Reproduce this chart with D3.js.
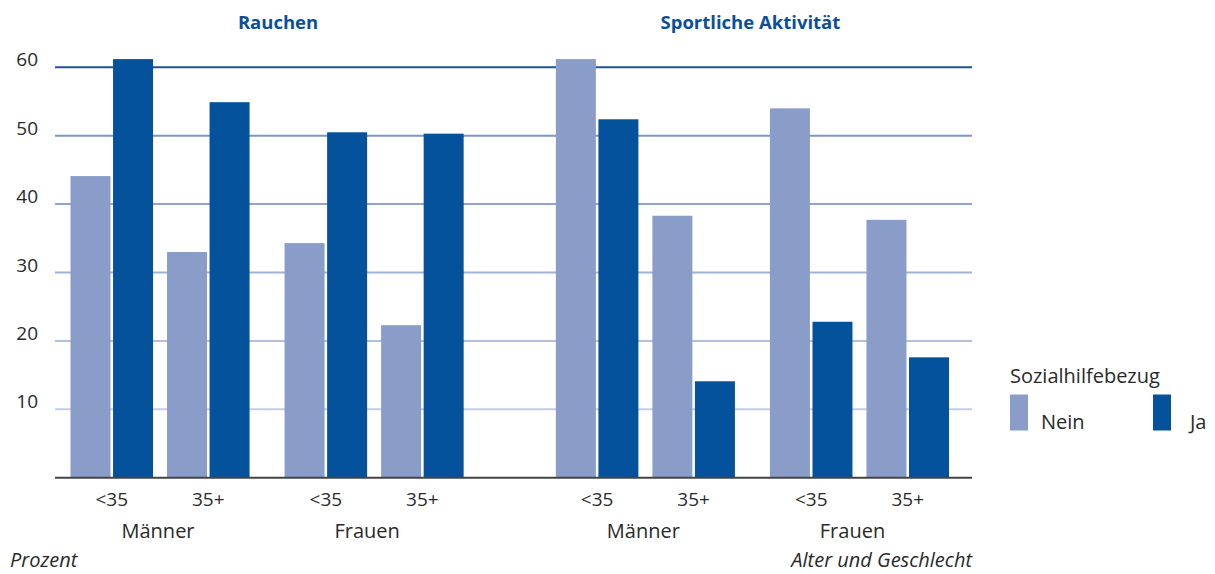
<!DOCTYPE html>
<html>
<head>
<meta charset="utf-8">
<script src="https://cdn.jsdelivr.net/npm/d3@7"></script>
<style>
  body { margin: 0; background: #fff; }
  svg { display: block; font-family: "Open Sans", sans-serif; }
</style>
</head>
<body>
<script>
// data
const panels = ["Rauchen", "Sportliche Aktivität"];
const genders = ["Männer", "Frauen"];
const ages = ["<35", "35+"];
const series = ["Nein", "Ja"];
// order: Männer <35, Männer 35+, Frauen <35, Frauen 35+
const rauchenNein = [44.1, 33.0, 34.3, 22.3];
const rauchenJa = [61.2, 54.9, 50.5, 50.3];
const sportNein = [61.2, 38.3, 54.0, 37.7];
const sportJa = [52.4, 14.1, 22.8, 17.6];
const yTicks = [10, 20, 30, 40, 50, 60];

const width = 1215;
const height = 574;
const colNein = "#8a9cc8";
const colJa = "#04529b";
const textCol = "#2a2a2a";

const svg = d3.select("body")
    .append("svg")
    .attr("width", width)
    .attr("height", height);

const y = d3.scaleLinear().domain([0, 60]).range([477.7, 67.3]);

const panelX = d3.scaleBand().domain(panels).range([70.5, 949]).paddingInner(0.19);
const genderX = d3.scaleBand().domain(genders).range([0, panelX.bandwidth()]).paddingInner(0.1636);
const ageX = d3.scaleBand().domain(ages).range([0, genderX.bandwidth()]).paddingInner(0.145);
const seriesX = d3.scaleBand().domain(series).range([0, ageX.bandwidth()]).paddingInner(0.06);
const color = d3.scaleOrdinal().domain(series).range([colNein, colJa]);

// gridlines get lighter towards the bottom
const gridCol = d3.scaleLinear().domain([10, 50, 60])
    .range(["#c3cde8", "#7c96c9", "#1f5299"]);

svg.append("g")
    .selectAll("line")
    .data(yTicks)
    .join("line")
    .attr("x1", 55)
    .attr("x2", 972)
    .attr("y1", d => y(d))
    .attr("y2", d => y(d))
    .attr("stroke", d => gridCol(d))
    .attr("stroke-width", 2);

svg.append("g")
    .selectAll("text")
    .data(yTicks)
    .join("text")
    .attr("x", 38)
    .attr("y", d => y(d) - 1)
    .attr("text-anchor", "end")
    .attr("font-size", 19)
    .attr("fill", textCol)
    .text(d => d);

// build rows for the bars
const values = {
    "Rauchen": { Nein: rauchenNein, Ja: rauchenJa },
    "Sportliche Aktivität": { Nein: sportNein, Ja: sportJa }
};
const rows = [];
panels.forEach(p => {
    genders.forEach((g, gi) => {
        ages.forEach((a, ai) => {
            series.forEach(s => {
                rows.push({ panel: p, gender: g, age: a, series: s, value: values[p][s][gi * 2 + ai] });
            });
        });
    });
});

const barX = d => panelX(d.panel) + genderX(d.gender) + ageX(d.age) + seriesX(d.series);

svg.append("g")
    .selectAll("rect")
    .data(rows)
    .join("rect")
    .attr("x", barX)
    .attr("y", d => y(d.value))
    .attr("width", seriesX.bandwidth())
    .attr("height", d => y(0) - y(d.value))
    .attr("fill", d => color(d.series));

// baseline
svg.append("line")
    .attr("x1", 55)
    .attr("x2", 972)
    .attr("y1", y(0))
    .attr("y2", y(0))
    .attr("stroke", "#444")
    .attr("stroke-width", 2);

// panel titles
svg.append("g")
    .selectAll("text")
    .data(panels)
    .join("text")
    .attr("x", (d, i) => panelX(d) + panelX.bandwidth() / 2 + (i === 0 ? 11 : -2))
    .attr("y", 29)
    .attr("text-anchor", "middle")
    .attr("font-size", 18.5)
    .attr("font-weight", "bold")
    .attr("fill", "#0b4f9c")
    .text(d => d);

// age and gender labels
const cells = [];
panels.forEach(p => genders.forEach(g => ages.forEach(a => cells.push({ panel: p, gender: g, age: a }))));

svg.append("g")
    .selectAll("text")
    .data(cells)
    .join("text")
    .attr("x", d => panelX(d.panel) + genderX(d.gender) + ageX(d.age) + ageX.bandwidth() / 2)
    .attr("y", 506)
    .attr("text-anchor", "middle")
    .attr("font-size", 19)
    .attr("fill", textCol)
    .text(d => d.age);

const groups = [];
panels.forEach(p => genders.forEach(g => groups.push({ panel: p, gender: g })));

svg.append("g")
    .selectAll("text")
    .data(groups)
    .join("text")
    .attr("x", d => panelX(d.panel) + genderX(d.gender) + genderX.bandwidth() / 2 + (d.gender === "Frauen" ? -7 : -2))
    .attr("y", 538)
    .attr("text-anchor", "middle")
    .attr("font-size", 20)
    .attr("fill", textCol)
    .text(d => d.gender);

svg.append("text")
    .attr("x", 10)
    .attr("y", 567)
    .attr("font-size", 20)
    .attr("font-style", "italic")
    .attr("fill", textCol)
    .text("Prozent");

svg.append("text")
    .attr("x", 972)
    .attr("y", 567)
    .attr("text-anchor", "end")
    .attr("font-size", 20)
    .attr("font-style", "italic")
    .attr("fill", textCol)
    .text("Alter und Geschlecht");

// legend
const legend = svg.append("g");
const legX = d3.scalePoint().domain(series).range([1010, 1153]);

legend.append("text")
    .attr("x", 1010)
    .attr("y", 383)
    .attr("font-size", 20)
    .attr("fill", textCol)
    .text("Sozialhilfebezug");

legend.selectAll("rect")
    .data(series)
    .join("rect")
    .attr("x", d => legX(d))
    .attr("y", 394.5)
    .attr("width", 18)
    .attr("height", 36)
    .attr("fill", d => color(d));

legend.selectAll("text.item")
    .data(series)
    .join("text")
    .attr("class", "item")
    .attr("x", d => legX(d) + (d === "Nein" ? 31 : 37))
    .attr("y", 429)
    .attr("font-size", 20)
    .attr("fill", textCol)
    .text(d => d);
</script>
</body>
</html>
